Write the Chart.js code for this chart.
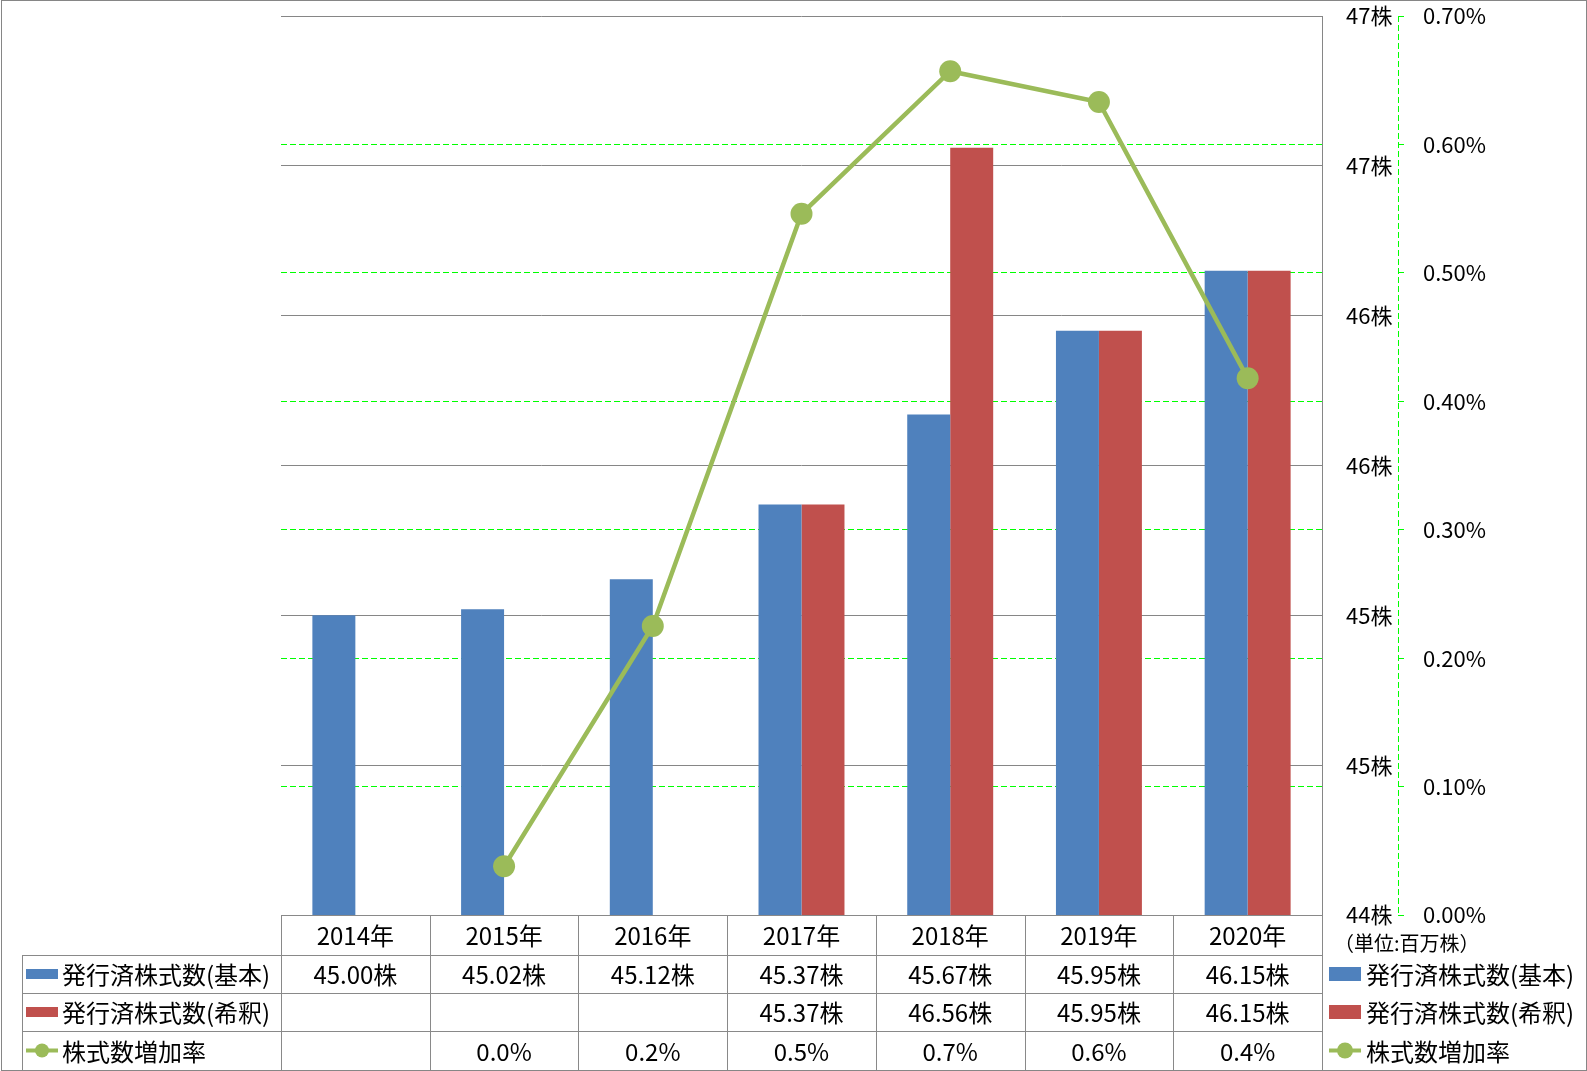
<!DOCTYPE html>
<html>
<head>
<meta charset="utf-8">
<script src="https://cdn.jsdelivr.net/npm/chart.js@4"></script>
<style>
  html, body { margin: 0; padding: 0; background: #fff; }
  #wrap { width: 1587px; height: 1071px; }
</style>
</head>
<body>
<div id="wrap"><canvas id="c" width="1587" height="1071"></canvas></div>
<script>
// ---- data ----
const categories = ['2014年', '2015年', '2016年', '2017年', '2018年', '2019年', '2020年'];
const seriesNames = ['発行済株式数(基本)', '発行済株式数(希釈)', '株式数増加率'];
const basicShares = [45.00, 45.02, 45.12, 45.37, 45.67, 45.95, 46.15];
const dilutedShares = [null, null, null, 45.37, 46.56, 45.95, 46.15];
const growthRate = [null, 0.038, 0.225, 0.546, 0.657, 0.633, 0.418]; // percent
const shareAxis = { min: 44, max: 47, step: 0.5 };
const rateAxis = { min: 0, max: 0.7, step: 0.1 };
const unitNote = '（単位:百万株）';

// ---- styles ----
const BLUE = '#4F81BD', RED = '#C0504D', GREEN = '#9BBB59';
const GRID_GRAY = '#868686', DASH_GREEN = '#00FF00';
const FONT = '"Noto Sans CJK JP", "Noto Sans", sans-serif';
const rowHeights = [40, 38, 38, 39];
const tableLeft = 22;

const tablePlugin = {
  id: 'tablePlugin',
  afterDraw(chart) {
    const ctx = chart.ctx;
    const ca = chart.chartArea;
    const n = categories.length;
    const colW = (ca.right - ca.left) / n;
    const ys = [ca.bottom];
    rowHeights.forEach(h => ys.push(ys[ys.length - 1] + h));

    ctx.save();
    // dashed secondary axis line
    const y1 = chart.scales.y1;
    ctx.strokeStyle = DASH_GREEN;
    ctx.lineWidth = 1;
    ctx.setLineDash([6, 3]);
    ctx.beginPath();
    ctx.moveTo(Math.round(y1.left) + 0.5, ca.top);
    ctx.lineTo(Math.round(y1.left) + 0.5, ca.bottom);
    ctx.stroke();
    ctx.setLineDash([]);

    // table lines
    ctx.strokeStyle = '#898989';
    ctx.lineWidth = 1;
    ctx.beginPath();
    const r = v => Math.round(v) + 0.5;
    ctx.moveTo(ca.left, r(ys[0])); ctx.lineTo(ca.right, r(ys[0]));
    for (let k = 1; k < ys.length; k++) {
      ctx.moveTo(tableLeft, r(ys[k])); ctx.lineTo(ca.right, r(ys[k]));
    }
    for (let i = 0; i <= n; i++) {
      const x = r(ca.left + i * colW);
      ctx.moveTo(x, ys[0]); ctx.lineTo(x, ys[ys.length - 1]);
    }
    ctx.moveTo(r(tableLeft), ys[1]); ctx.lineTo(r(tableLeft), ys[ys.length - 1]);
    ctx.stroke();

    // outer border
    ctx.strokeStyle = GRID_GRAY;
    ctx.strokeRect(1.5, 0.5, chart.width - 2, chart.height - 1);

    // table text
    ctx.fillStyle = '#000';
    ctx.textBaseline = 'middle';
    ctx.textAlign = 'center';
    ctx.font = '24px ' + FONT;
    const rowMid = k => (ys[k] + ys[k + 1]) / 2;
    for (let i = 0; i < n; i++) {
      const cx = chart.scales.x.getPixelForValue(i);
      ctx.fillText(categories[i], cx, rowMid(0) + 1);
      if (basicShares[i] != null) ctx.fillText(basicShares[i].toFixed(2) + '株', cx, rowMid(1) + 1);
      if (dilutedShares[i] != null) ctx.fillText(dilutedShares[i].toFixed(2) + '株', cx, rowMid(2) + 1);
      if (growthRate[i] != null) ctx.fillText(growthRate[i].toFixed(1) + '%', cx, rowMid(3) + 1);
    }

    // legend keys (left in table, and right outside)
    const drawKey = (x0, yMid, k, boxH, rad) => {
      if (k < 2) {
        ctx.fillStyle = k === 0 ? BLUE : RED;
        ctx.fillRect(x0, yMid - boxH / 2, 32, boxH);
      } else {
        ctx.strokeStyle = GREEN;
        ctx.lineWidth = 4;
        ctx.beginPath();
        ctx.moveTo(x0, yMid); ctx.lineTo(x0 + 32, yMid);
        ctx.stroke();
        ctx.fillStyle = GREEN;
        ctx.beginPath();
        ctx.arc(x0 + 16, yMid, rad, 0, Math.PI * 2);
        ctx.fill();
      }
    };
    ctx.textAlign = 'left';
    for (let k = 0; k < 3; k++) {
      const ym = rowMid(k + 1);
      drawKey(26, ym, k, 10, 7);
      ctx.fillStyle = '#000';
      ctx.fillText(seriesNames[k], 62, ym + 1);
      drawKey(1329, ym, k, 14, 8);
      ctx.fillStyle = '#000';
      ctx.fillText(seriesNames[k], 1366, ym + 1);
    }
    // unit note
    ctx.font = '20px ' + FONT;
    ctx.fillText(unitNote, 1334, 943);
    ctx.restore();
  }
};

new Chart(document.getElementById('c'), {
  type: 'bar',
  data: {
    labels: categories,
    datasets: [
      {
        type: 'line', label: seriesNames[2], data: growthRate, yAxisID: 'y1', order: 0,
        borderColor: GREEN, backgroundColor: GREEN, borderWidth: 4.5,
        pointRadius: 11, pointBackgroundColor: GREEN, pointBorderColor: GREEN, pointBorderWidth: 0,
        tension: 0, spanGaps: false
      },
      {
        label: seriesNames[0], data: basicShares, yAxisID: 'y', order: 1,
        backgroundColor: BLUE, categoryPercentage: 0.578, barPercentage: 1
      },
      {
        label: seriesNames[1], data: dilutedShares, yAxisID: 'y', order: 1,
        backgroundColor: RED, categoryPercentage: 0.578, barPercentage: 1
      }
    ]
  },
  options: {
    responsive: false,
    animation: false,
    events: [],
    layout: { padding: { left: 281, top: 16, right: 0, bottom: 156 } },
    plugins: { legend: { display: false }, tooltip: { enabled: false } },
    scales: {
      x: { display: false },
      y: {
        position: 'right', weight: 0,
        min: shareAxis.min, max: shareAxis.max,
        ticks: {
          stepSize: shareAxis.step, padding: 24, color: '#000',
          font: { family: FONT, size: 22 },
          callback: v => Math.round(v) + '株'
        },
        grid: { color: GRID_GRAY, lineWidth: 1, drawTicks: false },
        border: { display: true, color: GRID_GRAY, width: 1 },
        afterFit: s => { s.width = 76; s.paddingTop = 0; s.paddingBottom = 0; }
      },
      y1: {
        position: 'right', weight: 1,
        min: rateAxis.min, max: rateAxis.max,
        ticks: {
          stepSize: rateAxis.step, padding: 16, color: '#000',
          font: { family: FONT, size: 22 },
          callback: v => v.toFixed(2) + '%'
        },
        grid: {
          color: c => (c.tick && Math.abs(c.tick.value - rateAxis.max) < 1e-9) ? 'rgba(0,0,0,0)' : DASH_GREEN,
          lineWidth: 1, drawTicks: true, tickLength: 9,
          tickColor: DASH_GREEN, tickBorderDash: [6, 3]
        },
        border: { display: false, dash: [6, 3] },
        afterFit: s => { s.width = 189; s.paddingTop = 0; s.paddingBottom = 0; }
      }
    }
  },
  plugins: [tablePlugin]
});
</script>
</body>
</html>
